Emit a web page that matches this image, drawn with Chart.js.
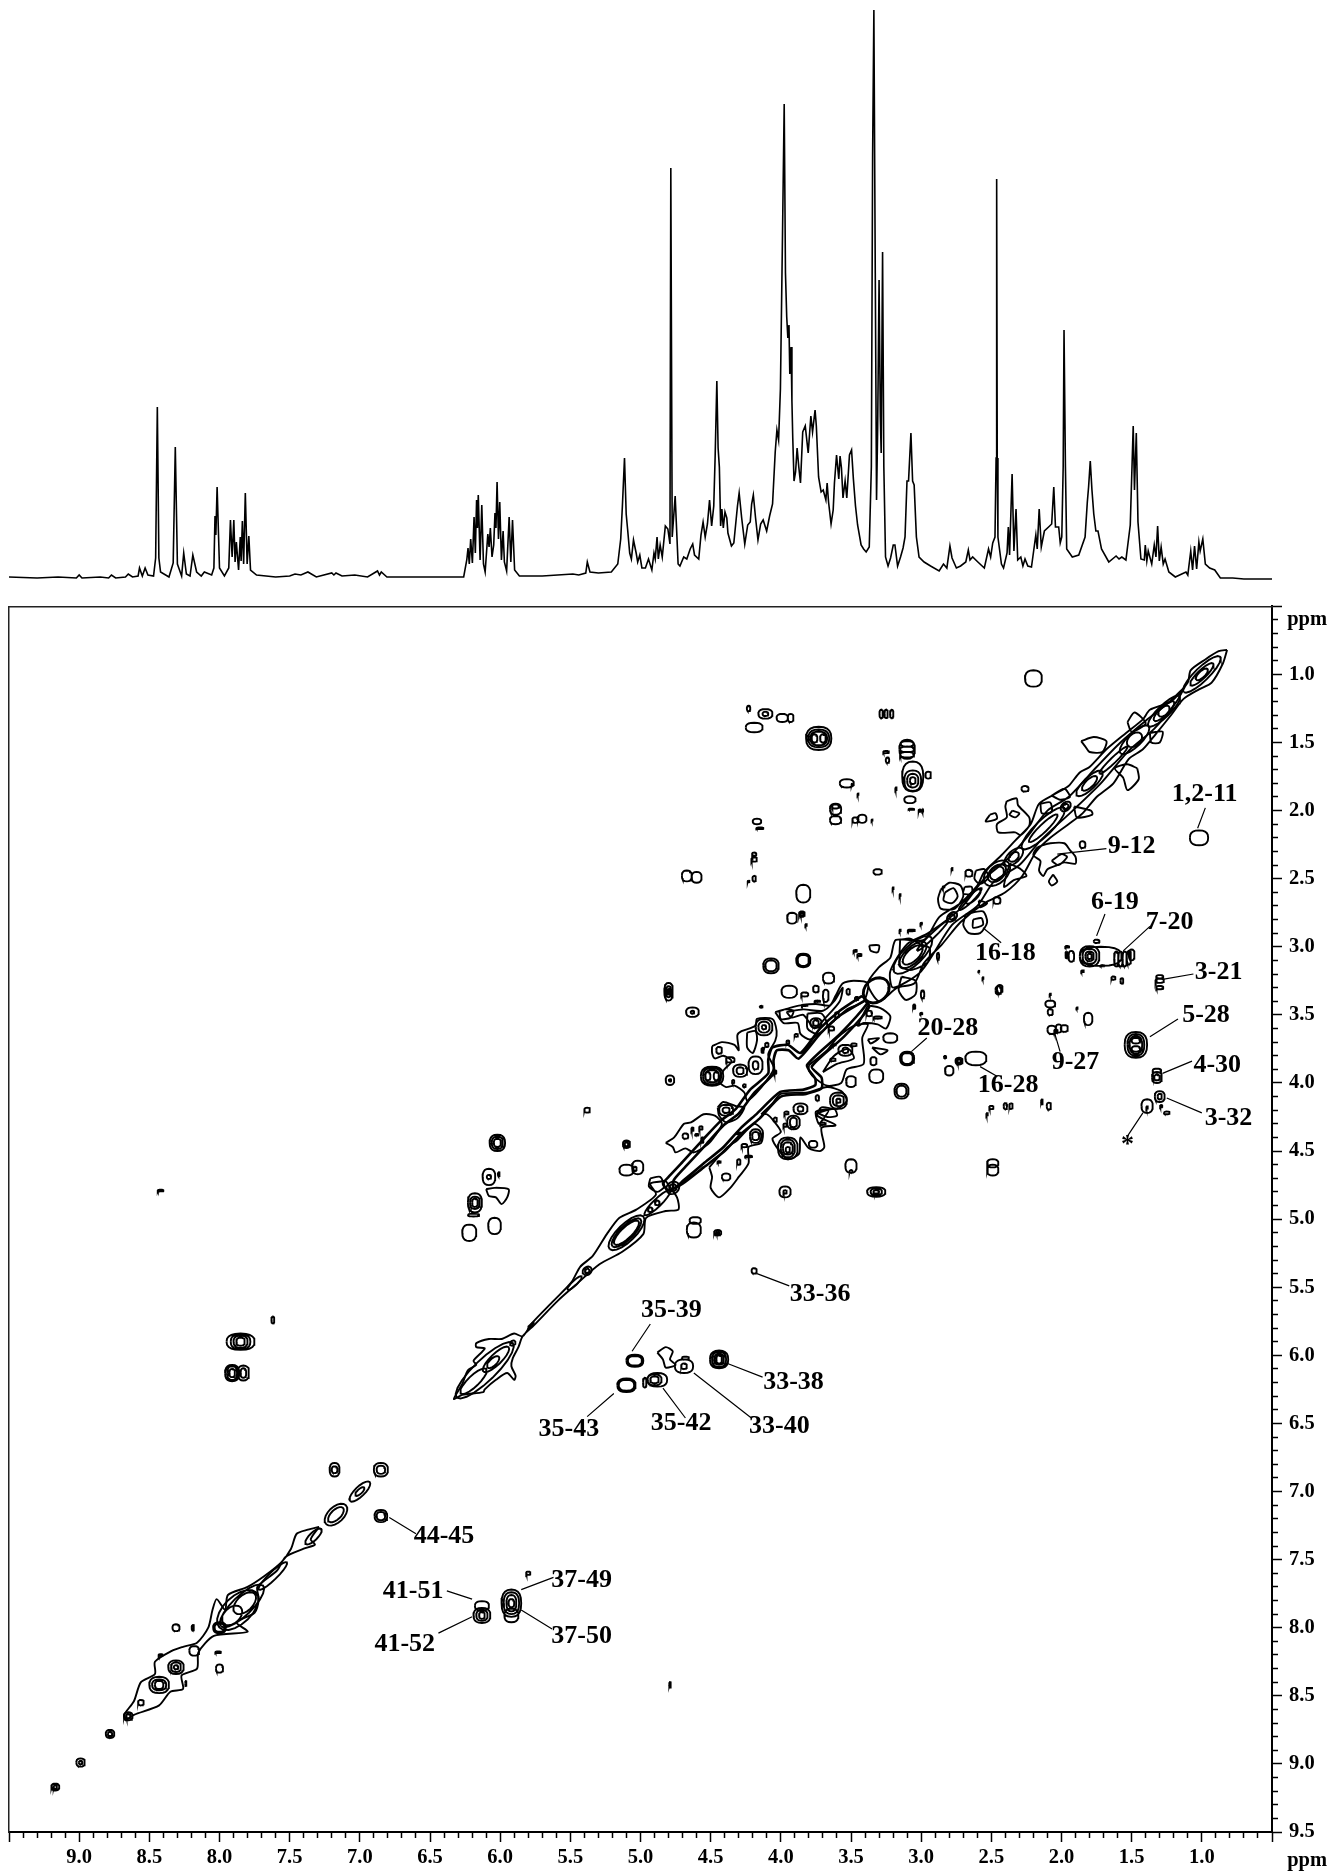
<!DOCTYPE html>
<html><head><meta charset="utf-8"><title>COSY spectrum</title>
<style>
html,body{margin:0;padding:0;background:#fff;width:1333px;height:1874px;overflow:hidden}
canvas{position:absolute;left:0;display:block}
#top{top:0}#main{top:587px}
</style>
<script src="https://cdn.jsdelivr.net/npm/chart.js@4/dist/chart.umd.min.js"></script>
</head><body>
<canvas id="top" width="1333" height="600"></canvas>
<canvas id="main" width="1333" height="1287"></canvas>
<script>
// 1D proton trace: [ppm, height]
const spectrum = [[9.5,1],[9.3,0],[9.15,1],[9.02,0],[9,3],[8.98,0],[8.85,1],[8.79,0],[8.77,3],[8.74,0],[8.67,1],[8.65,4],[8.62,1],[8.58,2],[8.57,10],[8.55,2],[8.53,10],[8.51,3],[8.47,2],[8.455,20],[8.443,171],[8.432,20],[8.42,6],[8.36,1],[8.33,15],[8.315,131],[8.30,14],[8.29,10],[8.27,2],[8.255,25],[8.236,4],[8.21,2],[8.19,23],[8.163,6],[8.13,2],[8.108,6],[8.056,3],[8.04,10],[8.032,62],[8.026,43],[8.017,91],[8.0,10],[7.965,2],[7.934,10],[7.922,58],[7.91,21],[7.898,58],[7.889,16],[7.88,36],[7.864,8],[7.852,41],[7.846,17],[7.837,57],[7.828,14],[7.816,85],[7.803,14],[7.791,42],[7.779,8],[7.736,3],[7.6,1],[7.5,2],[7.462,4],[7.42,3],[7.37,6],[7.31,1],[7.2,5],[7.185,3],[7.17,5],[7.127,2],[7.036,3],[6.945,1],[6.874,7],[6.86,3],[6.847,6],[6.807,1],[6.5,1],[6.26,1],[6.238,18],[6.229,30],[6.22,14],[6.21,39],[6.198,15],[6.186,61],[6.177,25],[6.168,78],[6.162,50],[6.156,83],[6.143,18],[6.131,73],[6.119,14],[6.107,6],[6.088,44],[6.079,31],[6.07,50],[6.058,21],[6.046,33],[6.037,65],[6.03,50],[6.022,96],[6.012,39],[6.003,76],[5.991,18],[5.979,47],[5.97,16],[5.954,7],[5.936,61],[5.924,16],[5.912,58],[5.897,8],[5.863,2],[5.7,2],[5.482,4],[5.44,3],[5.39,5],[5.379,16],[5.36,6],[5.30,5],[5.208,6],[5.162,14],[5.141,39],[5.129,72],[5.114,120],[5.102,64],[5.092,49],[5.077,25],[5.065,19],[5.05,38],[5.031,25],[5.02,16],[5.005,23],[4.99,10],[4.965,10],[4.943,19],[4.919,8],[4.904,25],[4.895,19],[4.882,41],[4.873,19],[4.86,33],[4.845,21],[4.823,52],[4.805,49],[4.79,34],[4.784,410],[4.774,41],[4.753,82],[4.732,14],[4.719,12],[4.692,21],[4.67,19],[4.646,29],[4.628,34],[4.615,23],[4.585,19],[4.569,43],[4.554,56],[4.539,41],[4.523,54],[4.508,78],[4.493,52],[4.478,72],[4.468,122],[4.456,197],[4.447,130],[4.438,111],[4.429,52],[4.42,69],[4.41,50],[4.398,66],[4.385,60],[4.377,45],[4.352,32],[4.335,35],[4.309,72],[4.297,85],[4.279,60],[4.257,34],[4.236,53],[4.218,56],[4.208,74],[4.196,83],[4.18,60],[4.163,38],[4.144,54],[4.126,58],[4.101,47],[4.08,62],[4.059,74],[4.04,126],[4.028,148],[4.016,138],[4.003,189],[3.988,344],[3.976,474],[3.967,305],[3.958,261],[3.95,240],[3.942,253],[3.936,204],[3.927,231],[3.921,177],[3.915,140],[3.906,97],[3.895,106],[3.884,130],[3.872,111],[3.86,95],[3.844,146],[3.826,152],[3.805,125],[3.786,162],[3.774,146],[3.756,168],[3.747,152],[3.731,101],[3.713,86],[3.698,88],[3.679,78],[3.67,95],[3.66,76],[3.642,54],[3.627,68],[3.618,95],[3.603,123],[3.587,99],[3.578,122],[3.568,110],[3.557,80],[3.542,97],[3.53,80],[3.511,123],[3.496,128],[3.483,99],[3.468,72],[3.453,53],[3.428,33],[3.41,29],[3.392,26],[3.37,31],[3.355,111],[3.346,422],[3.337,568],[3.327,305],[3.318,78],[3.31,150],[3.30,298],[3.291,161],[3.285,125],[3.275,326],[3.266,111],[3.254,21],[3.236,12],[3.218,20],[3.199,33],[3.187,33],[3.168,12],[3.147,21],[3.129,30],[3.115,41],[3.101,97],[3.09,97],[3.073,145],[3.061,97],[3.05,93],[3.034,41],[3.015,21],[2.979,16],[2.933,12],[2.872,7],[2.841,14],[2.817,10],[2.795,32],[2.78,20],[2.749,10],[2.719,12],[2.682,16],[2.664,28],[2.652,18],[2.633,21],[2.596,16],[2.55,10],[2.52,29],[2.505,21],[2.49,35],[2.474,41],[2.466,120],[2.462,399],[2.458,120],[2.453,41],[2.428,14],[2.413,10],[2.388,25],[2.379,51],[2.37,23],[2.352,104],[2.339,27],[2.324,69],[2.312,18],[2.29,21],[2.275,12],[2.26,19],[2.24,12],[2.214,11],[2.183,43],[2.173,29],[2.159,69],[2.144,31],[2.122,47],[2.092,51],[2.07,54],[2.055,91],[2.043,51],[2.02,51],[2.009,35],[1.998,41],[1.988,111],[1.982,248],[1.972,111],[1.963,29],[1.923,21],[1.877,23],[1.832,41],[1.816,76],[1.807,91],[1.795,117],[1.783,88],[1.77,64],[1.755,47],[1.74,47],[1.715,29],[1.663,16],[1.611,22],[1.59,19],[1.57,21],[1.541,18],[1.51,53],[1.489,152],[1.48,88],[1.467,145],[1.455,56],[1.434,19],[1.41,18],[1.403,33],[1.392,17],[1.382,27],[1.357,14],[1.339,33],[1.327,21],[1.315,52],[1.303,17],[1.29,31],[1.275,14],[1.262,19],[1.235,6],[1.189,1],[1.113,6],[1.1,3],[1.079,27],[1.066,8],[1.052,32],[1.037,9],[1.021,36],[1.012,27],[0.993,39],[0.975,14],[0.944,10],[0.908,8],[0.868,0],[0.78,0],[0.7,-1],[0.5,-1]];

// isolated cross peaks and their contour levels: [f2, f1, halfWidthF2, halfWidthF1]
const crossPeaks = [
[2.20,1.03,.06,.06],[1.02,2.20,.065,.055],[4.23,1.25,.012,.02],[4.11,1.29,.05,.035],[4.11,1.29,.02,.015],[4.19,1.39,.06,.035],[3.99,1.32,.04,.03],[3.93,1.32,.02,.03],
[3.285,1.29,.012,.03],[3.25,1.29,.012,.03],[3.21,1.29,.012,.03],
[3.73,1.47,.09,.085],[3.73,1.47,.075,.065],[3.73,1.47,.06,.05],[3.76,1.47,.02,.03],[3.70,1.47,.02,.03],
[3.10,1.51,.045,.02],[3.10,1.55,.05,.02],[3.10,1.59,.05,.02],[3.10,1.55,.055,.07],[3.25,1.57,.02,.008],[3.24,1.63,.012,.02],
[3.06,1.75,.075,.11],[3.06,1.78,.06,.075],[3.06,1.78,.04,.05],[3.06,1.78,.02,.025],[2.95,1.74,.02,.025],[3.53,1.80,.05,.03],[3.49,1.81,.006,.008],[3.45,1.88,.004,.005],[3.18,1.84,.005,.01],
[3.08,1.92,.04,.025],[3.07,1.99,.02,.004],[3.01,2.0,.008,.008],[2.99,2.0,.004,.01],
[3.61,1.99,.04,.04],[3.61,1.97,.025,.015],[3.61,2.07,.04,.03],[3.47,2.07,.02,.02],[3.42,2.06,.03,.03],[3.35,2.07,.004,.004],
[4.17,2.08,.03,.02],[4.15,2.13,.025,.006],[4.19,2.36,.02,.015],[4.19,2.32,.015,.012],[4.19,2.50,.012,.02],[4.23,2.52,.006,.005],
[4.67,2.48,.035,.04],[4.60,2.49,.035,.04],[3.31,2.45,.03,.02],[3.84,2.61,.05,.065],[3.92,2.79,.035,.04],[3.85,2.76,.02,.02],[3.85,2.76,.01,.01],[3.82,2.84,.006,.006],
[3.20,2.57,.004,.006],[3.15,2.62,.004,.006],[2.78,2.43,.004,.008],[2.26,1.84,.025,.02],[1.85,2.25,.02,.025],
[4.80,3.33,.03,.065],[4.80,3.33,.018,.04],[4.80,3.33,.008,.02],[4.63,3.48,.045,.035],[4.63,3.48,.012,.01],[4.14,3.44,.01,.006],
[3.84,3.10,.05,.05],[3.84,3.10,.04,.04],[4.07,3.14,.055,.055],[4.07,3.14,.04,.04],
[4.79,3.98,.03,.035],[4.79,3.98,.008,.008],[3.10,3.82,.05,.05],[3.10,3.82,.04,.04],[3.14,4.06,.05,.055],[3.14,4.06,.035,.04],[3.32,3.95,.05,.05],
[3.50,3.99,.035,.04],[3.34,3.84,.022,.03],[3.22,3.67,.05,.035],[3.66,3.23,.04,.04],[3.94,3.33,.055,.045],[3.75,3.31,.02,.025],[3.68,3.36,.02,.045],[3.83,3.35,.025,.015],
[2.99,3.35,.012,.03],[3.05,3.44,.008,.015],[3.0,3.49,.008,.005],[2.88,3.07,.008,.025],[3.07,2.88,.025,.006],[2.46,2.66,.025,.025],[2.66,2.46,.025,.025],[2.45,3.32,.02,.03],[2.59,3.18,.004,.004],[2.56,3.23,.004,.006],[2.84,2.56,.006,.004],[3.15,2.88,.005,.005],[3.0,2.83,.006,.006],
[1.75,2.96,.02,.012],[1.80,3.07,.07,.075],[1.80,3.07,.05,.055],[1.80,3.07,.03,.035],[1.80,3.07,.015,.02],[1.72,3.07,.15,.07],
[1.61,3.09,.015,.055],[1.58,3.09,.015,.055],[1.55,3.09,.015,.055],[1.52,3.08,.015,.05],[1.50,3.06,.02,.04],
[1.96,3.0,.014,.006],[1.93,3.07,.02,.04],[1.965,3.06,.006,.025],[1.85,3.18,.01,.006],[1.71,3.14,.014,.004],[1.63,3.23,.014,.012],[1.57,3.25,.01,.02],
[1.30,3.22,.025,.012],[1.30,3.25,.03,.015],[1.30,3.30,.025,.012],[2.08,3.42,.035,.025],[2.08,3.48,.018,.022],[2.08,3.35,.005,.005],[1.89,3.45,.005,.005],[1.81,3.53,.03,.045],
[2.07,3.61,.03,.03],[2.02,3.60,.02,.03],[1.98,3.60,.025,.025],[2.04,3.62,.012,.012],
[1.47,3.72,.08,.095],[1.47,3.72,.06,.08],[1.47,3.72,.045,.065],[1.47,3.69,.03,.02],[1.47,3.75,.03,.02],
[1.32,3.91,.03,.015],[1.32,3.96,.035,.04],[1.32,3.96,.02,.02],[1.30,4.10,.035,.04],[1.30,4.10,.015,.02],[1.29,4.17,.008,.008],[1.25,4.22,.02,.01],
[1.39,4.17,.04,.05],[1.39,4.18,.006,.008],[2.61,3.82,.075,.05],[2.73,3.84,.025,.025],[2.73,3.84,.012,.012],[2.83,3.81,.008,.008],[2.80,3.91,.03,.035],
[2.50,4.18,.015,.012],[2.53,4.23,.006,.008],[2.40,4.17,.012,.022],[2.36,4.17,.012,.02],[2.14,4.14,.006,.018],[2.09,4.17,.015,.025],[2.44,3.31,.02,.03],
[2.49,4.59,.04,.03],[2.49,4.64,.04,.04],[3.50,4.61,.04,.05],[3.50,4.65,.01,.01],[3.97,4.80,.04,.04],[3.97,4.80,.012,.012],[3.32,4.80,.065,.035],[3.32,4.80,.04,.025],[3.32,4.80,.02,.012],
[5.38,4.20,.02,.018],[5.10,4.45,.025,.028],[5.10,4.45,.012,.015],[6.02,4.44,.055,.06],[6.02,4.44,.04,.045],[6.02,4.44,.025,.03],[6.08,4.69,.045,.06],[6.08,4.69,.015,.015],[6.01,4.67,.006,.015],
[6.18,4.88,.05,.07],[6.18,4.88,.035,.045],[6.18,4.88,.02,.03],[6.19,4.97,.04,.01],[6.04,5.05,.045,.06],[6.22,5.10,.05,.06],[5.10,4.64,.05,.04],[5.02,4.62,.04,.05],[5.04,4.63,.012,.015],
[4.61,5.01,.04,.025],[4.62,5.08,.05,.055],[4.45,5.10,.025,.02],[4.45,5.10,.01,.008],[4.19,5.38,.018,.02],
[5.04,6.04,.06,.045],[5.04,6.04,.05,.035],[5.10,6.22,.065,.05],[5.10,6.22,.055,.04],[4.97,6.20,.012,.035],[4.88,6.18,.07,.05],[4.90,6.18,.05,.04],[4.90,6.18,.03,.025],[4.69,6.08,.065,.05],[4.69,6.08,.02,.02],[4.68,6.02,.025,.01],
[4.44,6.03,.065,.065],[4.44,6.03,.05,.055],[4.44,6.03,.035,.04],[4.44,6.03,.02,.03],
[7.62,5.74,.01,.025],[7.85,5.90,.1,.06],[7.85,5.90,.07,.055],[7.85,5.90,.05,.045],[7.85,5.90,.03,.03],[7.91,6.13,.05,.06],[7.91,6.13,.035,.05],[7.91,6.13,.02,.03],[7.83,6.13,.04,.055],[7.83,6.13,.02,.035],
[7.18,6.84,.035,.05],[7.18,6.84,.02,.025],[6.85,6.84,.05,.05],[6.85,6.84,.03,.03],[6.85,7.18,.045,.045],[6.85,7.18,.03,.03],[5.80,7.60,.015,.012],
[5.92,7.82,.07,.10],[5.92,7.82,.055,.08],[5.92,7.82,.035,.06],[5.92,7.82,.02,.03],[5.92,7.91,.05,.05],[6.13,7.84,.05,.035],[6.13,7.91,.06,.055],[6.13,7.91,.04,.04],[6.13,7.91,.02,.025],
[4.79,8.42,.006,.02],[8.42,4.79,.02,.006],
[8.0,8.0,.045,.04],[8.0,8.0,.035,.03],[8.18,8.17,.035,.035],[8.31,8.29,.055,.05],[8.31,8.29,.035,.035],[8.31,8.29,.015,.015],[8.43,8.42,.07,.06],[8.43,8.42,.05,.04],[8.43,8.42,.03,.03],
[8.56,8.55,.02,.02],[8.65,8.65,.03,.03],[8.65,8.65,.015,.015],[8.78,8.78,.03,.03],[8.78,8.78,.015,.015],[8.99,8.99,.03,.03],[8.99,8.99,.012,.012],[9.17,9.17,.028,.025],[9.17,9.17,.012,.012],
[8.31,8.0,.025,.025],[8.19,8.0,.008,.02],[8.01,8.18,.02,.006],[8.0,8.30,.025,.03],[8.24,8.41,.004,.018],[8.42,8.2,.014,.006],
[4.12,3.59,.06,.06],[4.12,3.59,.04,.04],[4.12,3.59,.015,.015],[4.49,3.95,.08,.07],[4.49,3.95,.065,.06],[4.49,3.95,.05,.045],[4.52,3.95,.018,.03],[4.46,3.95,.018,.03],
[3.59,4.13,.06,.06],[3.59,4.13,.04,.04],[3.59,4.13,.015,.015],[3.95,4.48,.07,.08],[3.95,4.48,.05,.065],[3.95,4.48,.035,.045],[3.95,4.49,.015,.02],
[4.18,3.87,.05,.065],[4.18,3.87,.02,.03],[4.29,3.91,.05,.045],[4.29,3.91,.025,.025],[4.39,4.20,.05,.04],[4.39,4.20,.025,.02],[3.91,4.29,.045,.05],[3.91,4.29,.025,.035],[3.86,4.19,.05,.04],[3.86,4.19,.02,.02],
[4.18,4.39,.04,.05],[4.18,4.39,.025,.03],[4.39,4.69,.03,.025],[4.68,4.39,.02,.02],[3.75,3.56,.04,.035],[3.75,3.56,.02,.02],[3.54,3.76,.05,.04],[3.54,3.76,.02,.02],[3.48,3.72,.02,.01],[3.63,3.83,.02,.01],
[4.04,3.92,.008,.012],[3.95,3.70,.01,.012],[3.89,3.65,.012,.01],[4.26,4.02,.01,.01],[4.34,3.99,.008,.012],[4.30,4.37,.02,.006],[4.23,4.54,.025,.006],[4.44,4.58,.012,.006],[4.57,4.33,.012,.012],[4.63,4.34,.008,.012],[4.60,4.38,.012,.006],[3.97,4.31,.012,.012],[3.74,4.11,.012,.02],[3.64,3.60,.02,.015],[3.60,3.50,.014,.02],[3.62,3.72,.012,.004],[3.37,3.49,.02,.02],[3.31,3.52,.03,.008],[3.52,3.33,.012,.02],[3.46,3.38,.012,.012],[3.70,4.30,.02,.008],[3.83,3.43,.02,.005],[3.74,3.40,.02,.005],
[3.47,3.03,.012,.006],[3.44,3.06,.015,.008],[4.44,3.76,.02,.025],[4.36,3.83,.03,.02],[3.77,4.45,.03,.025],[4.04,4.27,.012,.015],[4.10,3.72,.012,.015],[4.56,4.42,.008,.02],[4.26,4.46,.02,.012],[4.13,3.76,.008,.018],[3.96,4.22,.015,.01],[4.30,4.58,.012,.02]
];

// diagonal ridge contours: [centre ppm, half-length along the diagonal, half-width across]
const diagonalPeaks = [
[1.00,.13,.035],[1.00,.08,.022],[1.00,.04,.016],[1.27,.11,.03],[1.27,.07,.022],[1.27,.035,.02],[1.48,.10,.035],[1.48,.045,.03],[1.63,.10,.014],[1.80,.09,.03],[1.80,.05,.02],
[1.97,.03,.02],[1.97,.015,.012],[2.13,.15,.04],[2.13,.10,.02],[2.34,.06,.03],[2.34,.03,.02],[2.46,.08,.05],[2.46,.055,.035],[2.46,.04,.03],[2.65,.08,.015],[2.63,.05,.02],[2.78,.03,.02],[2.78,.015,.012],[2.92,.11,.012],[3.06,.13,.05],[3.06,.09,.04],[3.06,.065,.03],[3.32,.07,.055],[3.32,.072,.057],[3.32,.075,.06],
[4.77,.035,.03],[4.77,.02,.018],[4.88,.09,.02],[4.88,.012,.012],[4.93,.012,.012],[5.10,.12,.045],[5.10,.10,.035],[5.10,.085,.028],[5.38,.025,.02],[5.38,.012,.01],[5.47,.05,.012],[5.78,.02,.005],
[6.03,.09,.028],[6.19,.09,.028],[6.11,.20,.055],[6.05,.04,.018],[5.91,.015,.012],
[7.33,.055,.02],[7.62,.10,.02],[7.91,.06,.04],[7.82,.07,.04],[7.87,.13,.07],[7.84,.15,.05],[7.0,.07,.025],[7.0,.03,.012],[7.17,.07,.04],[7.17,.05,.025]
];

// the heavy, tightly packed contours around the diagonal 3.4-4.8
const heavyContours = [
[3.398,3.393,3.576,3.503,3.719,3.638,3.873,3.821,3.945,3.760,4.028,3.760,4.052,3.834,4.052,3.932,4.194,4.078,4.301,4.225,4.408,4.311,4.527,4.445,4.681,4.617,4.764,4.715,4.764,4.776,4.693,4.715,4.551,4.592,4.408,4.470,4.289,4.335,4.170,4.225,4.004,4.066,3.838,4.049,3.755,4.017,3.755,3.968,3.814,3.870,3.576,3.638,3.386,3.418,3.398,3.393],
[3.42,3.36,3.58,3.47,3.72,3.60,3.86,3.78,3.95,3.72,4.06,3.74,4.09,3.83,4.09,3.93,4.22,4.05,4.32,4.19,4.43,4.28,4.55,4.41,4.70,4.58,4.80,4.69,4.84,4.74,4.80,4.79,4.70,4.74,4.55,4.62,4.40,4.50,4.28,4.37,4.15,4.26,4.0,4.10,3.82,4.08,3.71,4.04,3.71,3.96,3.78,3.88,3.55,3.66,3.37,3.44,3.42,3.36]
];

// irregular hand-read contour outlines, flat f2,f1 lists
const outlines = [
// diagonal hull 0.8-3.4
[.82,.82,.88,.83,.975,.89,1.08,.97,1.10,1.06,1.22,1.20,1.37,1.26,1.42,1.33,1.54,1.43,1.68,1.55,1.80,1.68,1.87,1.72,1.95,1.82,2.05,1.88,2.16,1.95,2.22,2.10,2.33,2.22,2.43,2.33,2.55,2.45,2.60,2.55,2.72,2.68,2.87,2.78,2.98,2.95,3.18,2.95,3.22,3.08,3.30,3.15,3.38,3.27,3.30,3.40,3.17,3.30,3.05,3.27,2.98,3.12,2.85,2.98,2.72,2.82,2.55,2.68,2.40,2.60,2.28,2.48,2.18,2.30,2.08,2.20,1.95,2.10,1.85,2.02,1.75,1.90,1.63,1.80,1.52,1.62,1.42,1.55,1.33,1.44,1.22,1.30,1.13,1.18,1.02,1.11,.93,1.06,.85,.92,.82,.82],
// inner ridge 1.1-3.3
[1.12,1.09,1.25,1.22,1.40,1.34,1.58,1.50,1.75,1.68,1.95,1.90,2.10,2.0,2.25,2.20,2.40,2.37,2.55,2.50,2.72,2.72,2.95,2.90,3.10,2.98,3.22,3.18,3.20,3.30,3.0,3.18,2.78,2.84,2.60,2.70,2.48,2.52,2.30,2.40,2.15,2.22,1.92,2.0,1.72,1.80,1.52,1.56,1.34,1.40,1.18,1.20,1.12,1.09],
// clouds flanking the diagonal
[4.49,3.73,4.42,3.70,4.33,3.72,4.30,3.76,4.31,3.65,4.28,3.62,4.18,3.58,4.17,3.53,4.06,3.53,4.03,3.62,4.04,3.69,4.09,3.79,4.05,3.89,4.10,3.98,4.18,4.08,4.24,4.13,4.26,4.07,4.33,4.02,4.39,4.03,4.44,3.99,4.41,3.91,4.35,3.84,4.41,3.80,4.47,3.82,4.49,3.78,4.49,3.73],
[4.24,3.63,4.18,3.62,4.17,3.69,4.20,3.78,4.24,3.74,4.24,3.63],
[4.04,3.48,3.98,3.56,3.88,3.56,3.86,3.64,3.79,3.68,3.67,3.59,3.53,3.46,3.41,3.40,3.38,3.27,3.48,3.25,3.56,3.27,3.61,3.36,3.65,3.43,3.75,3.42,3.86,3.43,3.94,3.45,4.04,3.48],
[3.96,3.48,3.92,3.52,3.84,3.50,3.76,3.60,3.68,3.52,3.58,3.40,3.56,3.30,3.62,3.40,3.70,3.47,3.84,3.46,3.96,3.48],
[4.01,3.47,3.97,3.46,3.91,3.47,3.93,3.52,4.0,3.53,4.01,3.47],
[3.81,3.49,3.71,3.49,3.67,3.58,3.74,3.64,3.81,3.60,3.81,3.49],
[4.82,4.44,4.76,4.40,4.69,4.30,4.64,4.29,4.55,4.23,4.47,4.24,4.42,4.30,4.47,4.39,4.52,4.45,4.62,4.51,4.68,4.48,4.75,4.51,4.77,4.47,4.82,4.44],
[4.45,4.18,4.41,4.14,4.32,4.17,4.26,4.18,4.31,4.26,4.39,4.29,4.44,4.24,4.45,4.18],
[4.14,4.23,4.06,4.15,4.00,4.08,3.81,4.07,3.67,4.03,3.57,4.06,3.53,4.13,3.60,4.19,3.71,4.18,3.74,4.24,3.61,4.31,3.71,4.33,3.69,4.47,3.72,4.50,3.80,4.48,3.86,4.40,3.87,4.52,3.95,4.56,4.01,4.50,4.06,4.41,4.00,4.36,4.05,4.28,4.10,4.23,4.14,4.23],
[3.74,4.22,3.62,4.19,3.60,4.24,3.67,4.25,3.74,4.22],
[3.70,4.27,3.66,4.20,3.75,4.21,3.73,4.30,3.70,4.27],
[4.51,4.62,4.39,4.48,4.31,4.42,4.19,4.30,4.13,4.35,4.14,4.44,4.23,4.47,4.23,4.59,4.30,4.69,4.36,4.77,4.44,4.84,4.50,4.77,4.49,4.69,4.51,4.62],
[3.80,3.87,3.67,3.76,3.60,3.67,3.48,3.58,3.38,3.57,3.42,3.67,3.41,3.86,3.53,3.90,3.57,4.00,3.67,4.02,3.75,3.97,3.80,3.91,3.80,3.87],
[3.70,3.92,3.62,3.80,3.52,3.75,3.48,3.82,3.60,3.86,3.70,3.92],
[3.38,3.68,3.30,3.67,3.36,3.71,3.38,3.68],[3.35,3.74,3.24,3.76,3.29,3.79,3.35,3.74],
[3.38,3.43,3.29,3.45,3.22,3.51,3.25,3.60,3.31,3.57,3.41,3.56,3.45,3.58,3.38,3.43],
[3.14,3.22,3.04,3.25,3.04,3.35,3.11,3.39,3.16,3.32,3.14,3.22],
[3.37,2.99,3.30,2.99,3.31,3.04,3.36,3.03,3.37,2.99],
[4.93,4.70,4.86,4.69,4.83,4.76,4.88,4.80,4.94,4.76,4.93,4.70],
// 1.3-1.8 side clouds
[1.86,1.49,1.77,1.46,1.68,1.49,1.71,1.57,1.80,1.57,1.83,1.53,1.86,1.49],[1.53,1.35,1.48,1.28,1.40,1.36,1.50,1.42,1.53,1.35],[1.46,1.69,1.45,1.77,1.53,1.85,1.56,1.76,1.62,1.69,1.53,1.66,1.46,1.69],[1.37,1.43,1.28,1.42,1.30,1.50,1.36,1.50,1.37,1.43],
// lobes around the 2.0-3.1 ridge
[2.61,2.44,2.55,2.43,2.52,2.49,2.58,2.54,2.62,2.50,2.61,2.44],[2.37,2.39,2.29,2.43,2.25,2.48,2.34,2.51,2.41,2.56,2.37,2.39],[2.69,2.56,2.64,2.56,2.64,2.61,2.70,2.61,2.69,2.56],[2.59,2.66,2.53,2.68,2.58,2.71,2.59,2.66],
[2.15,1.95,2.08,1.94,2.07,2.01,2.14,2.02,2.15,1.95],[1.91,1.97,1.79,2.0,1.78,2.03,1.89,2.05,1.91,1.97],[2.07,1.89,1.98,1.84,1.94,1.90,2.01,1.92,2.07,1.89],
[3.15,2.95,3.08,2.94,3.01,2.98,2.94,3.01,2.95,3.11,3.01,3.15,3.08,3.17,3.15,3.14,3.15,2.95],
// 9-12 cloud, upper cloud, 2.6 and 2.8 blobs
[2.15,2.26,2.08,2.24,1.98,2.24,1.94,2.29,1.90,2.34,1.90,2.39,1.98,2.38,2.03,2.40,2.10,2.43,2.13,2.48,2.16,2.44,2.15,2.37,2.20,2.33,2.18,2.28,2.15,2.26],
[2.07,2.37,2.0,2.32,1.96,2.34,2.02,2.40,2.07,2.37],
[2.06,2.47,2.03,2.52,2.07,2.55,2.09,2.52,2.06,2.47],
[2.39,1.93,2.32,1.91,2.31,1.96,2.23,2.05,2.23,2.11,2.29,2.18,2.33,2.16,2.45,2.16,2.46,2.10,2.39,2.05,2.40,1.97,2.39,1.93],
[2.35,2.0,2.30,2.02,2.33,2.05,2.37,2.03,2.35,2.0],
[2.51,2.03,2.47,2.02,2.46,2.06,2.54,2.08,2.51,2.03],
[2.86,2.58,2.80,2.53,2.72,2.55,2.70,2.63,2.76,2.72,2.86,2.72,2.88,2.65,2.86,2.58],
[2.83,2.60,2.77,2.57,2.74,2.63,2.78,2.68,2.84,2.66,2.83,2.60],
[2.68,2.76,2.56,2.74,2.53,2.82,2.58,2.90,2.66,2.90,2.70,2.84,2.68,2.76],
[2.63,2.80,2.57,2.79,2.56,2.84,2.63,2.86,2.63,2.80],
// 4.8 - 6.3 diagonal
[4.82,4.72,4.93,4.74,4.89,4.82,5.03,4.93,5.15,4.99,5.24,5.11,5.34,5.27,5.43,5.35,5.49,5.46,5.62,5.60,5.77,5.76,5.84,5.86,5.90,5.84,5.99,5.88,6.08,5.88,6.17,5.91,6.17,5.94,6.11,5.95,6.19,6.04,6.17,6.07,6.23,6.11,6.27,6.21,6.33,6.32,6.27,6.29,6.12,6.27,6.11,6.25,6.03,6.18,5.95,6.13,5.90,6.18,5.89,6.15,5.92,6.08,5.91,6.02,5.87,5.94,5.84,5.86,5.76,5.78,5.59,5.60,5.47,5.49,5.29,5.33,5.13,5.24,4.98,5.11,4.96,4.99,4.82,4.94,4.73,4.93,4.74,4.84,4.82,4.72],
[6.10,4.78,6.04,4.77,5.94,4.78,5.95,4.84,5.99,4.89,6.03,4.84,6.08,4.83,6.10,4.78],
[4.88,5.98,4.82,5.94,4.77,5.97,4.79,6.03,4.75,6.07,4.82,6.09,4.84,6.03,4.88,5.98],
// 7.3 - 8.7 diagonal
[7.29,7.26,7.37,7.28,7.45,7.31,7.49,7.42,7.56,7.52,7.68,7.62,7.80,7.70,7.94,7.76,7.96,7.87,8.02,7.79,8.05,7.87,8.08,8.0,8.16,8.11,8.26,8.14,8.34,8.17,8.46,8.25,8.46,8.34,8.56,8.40,8.61,8.54,8.68,8.64,8.67,8.68,8.61,8.64,8.43,8.57,8.35,8.47,8.26,8.45,8.27,8.35,8.16,8.30,8.15,8.18,8.04,8.06,7.80,8.03,7.88,7.96,7.75,7.89,7.72,7.79,7.73,7.70,7.59,7.58,7.53,7.48,7.40,7.42,7.32,7.39,7.35,7.35,7.29,7.26]
];

// leader lines [f2,f1,f2,f1]
const leaders = [[.975,1.98,1.03,2.13],[1.68,2.28,2.03,2.32],[1.69,2.76,1.75,2.92],[1.37,2.85,1.56,3.03],[2.43,2.97,2.56,2.86],[1.06,3.20,1.28,3.24],[1.17,3.53,1.37,3.66],[2.96,3.67,3.07,3.77],[2.01,3.77,2.05,3.63],[1.07,3.84,1.28,3.93],[2.46,3.95,2.58,3.88],[1.0,4.22,1.25,4.11],[1.53,4.39,1.42,4.22],[3.94,5.49,4.17,5.40],[4.93,5.77,5.06,5.97],[4.13,6.16,4.38,6.06],[4.21,6.46,4.62,6.13],[4.68,6.46,4.84,6.24],[5.38,6.45,5.19,6.28],[6.60,7.31,6.79,7.19],[5.62,7.63,5.85,7.72],[5.63,8.01,5.85,7.87],[6.38,7.73,6.20,7.79],[6.44,8.04,6.20,7.92]];

// assignment labels [text, f2, f1]
const assignments = [["1,2-11",.98,1.88],["9-12",1.50,2.26],["6-19",1.62,2.67],["7-20",1.23,2.82],["16-18",2.40,3.05],["3-21",.88,3.19],["5-28",.97,3.50],["20-28",2.81,3.60],["9-27",1.90,3.85],["4-30",.89,3.87],["16-28",2.38,4.02],["3-32",.81,4.26],["*",1.53,4.46],["33-36",3.72,5.55],["35-39",4.78,5.67],["33-38",3.91,6.20],["35-43",5.51,6.54],["35-42",4.71,6.50],["33-40",4.01,6.52],["44-45",6.40,7.33],["37-49",5.42,7.65],["41-51",6.62,7.73],["41-52",6.68,8.12],["37-50",5.42,8.06]];
const axisCaptions = [["ppm",.25,.60],["ppm",.25,9.71]];

const xLabelled = [9,8.5,8,7.5,7,6.5,6,5.5,5,4.5,4,3.5,3,2.5,2,1.5,1];
const yLabelled = [1,1.5,2,2.5,3,3.5,4,4.5,5,5.5,6,6.5,7,7.5,8,8.5,9,9.5];

const GAP = {x:NaN,y:NaN};
const SERIF = '"Liberation Serif","Times New Roman",serif';
const pairs = f => { const o=[]; for(let i=0;i<f.length;i+=2) o.push({x:f[i],y:f[i+1]}); return o; };
const STEPS = 20;
function ringPoints([x,y,rx,ry]){
  const o=[];
  for(let i=0;i<=STEPS;i++){
    const t=i/STEPS*2*Math.PI,c=Math.cos(t),s=Math.sin(t);
    o.push({x:x+rx*Math.sign(c)*Math.pow(Math.abs(c),.8),y:y+ry*Math.sign(s)*Math.pow(Math.abs(s),.8)});
  }
  return o;
}
function ridgePoints([m,a,b]){
  const o=[];
  for(let i=0;i<=STEPS;i++){
    const t=i/STEPS*2*Math.PI,p=a*Math.cos(t),q=b*Math.sin(t);
    o.push({x:m+p+q,y:m+p-q});
  }
  return o;
}
const joined = lists => lists.flatMap(l=>[...l,GAP]);
const contour = (label,data,tension,w)=>({label,data,showLine:true,pointRadius:0,borderColor:'#000',backgroundColor:'transparent',borderWidth:w,tension,spanGaps:false,fill:false});

Chart.defaults.animation=false;
Chart.defaults.font.family=SERIF;

new Chart(document.getElementById('top'),{
  type:'scatter',
  data:{datasets:[{label:'1H',data:spectrum.map(([x,y])=>({x,y})),showLine:true,pointRadius:0,borderColor:'#000',borderWidth:1.6,tension:0,borderJoinStyle:'miter'}]},
  options:{responsive:false,events:[],devicePixelRatio:1,
    layout:{padding:{left:9,right:61,top:10,bottom:17}},
    plugins:{legend:{display:false},tooltip:{enabled:false}},
    scales:{x:{type:'linear',min:.5,max:9.5,reverse:true,display:false},y:{type:'linear',min:-5,max:568,display:false}}}
});

const isMajor = v => Math.abs(v*2-Math.round(v*2))<1e-6;
const tickDash = c => (c.tick && isMajor(c.tick.value)) ? [] : [5,100];
const has = (list,v) => list.some(l=>Math.abs(l-v)<1e-6);
const tickFont = {family:SERIF,size:20.5,weight:'bold'};

const textPlugin = {id:'assignmentText',afterDraw(ch){
  const {ctx,scales:{x,y}}=ch;
  ctx.save();ctx.fillStyle='#000';ctx.textAlign='center';ctx.textBaseline='middle';
  ctx.font=`bold 26px ${SERIF}`;
  assignments.forEach(([t,a,b])=>ctx.fillText(t,x.getPixelForValue(a),y.getPixelForValue(b)));
  ctx.font=`bold 20.5px ${SERIF}`;
  axisCaptions.forEach(([t,a,b])=>ctx.fillText(t,x.getPixelForValue(a),y.getPixelForValue(b)));
  ctx.restore();
}};

new Chart(document.getElementById('main'),{
  type:'scatter',
  data:{datasets:[
    contour('outlines',joined(outlines.map(pairs)),.25,1.9),
    contour('heavy',joined(heavyContours.map(pairs)),.2,2.6),
    contour('diagonal',joined(diagonalPeaks.map(ridgePoints)),0,1.9),
    contour('cross peaks',joined(crossPeaks.map(ringPoints)),0,1.9),
    contour('leaders',joined(leaders.map(([a,b,c,d])=>[{x:a,y:b},{x:c,y:d}])),0,1.2)
  ]},
  plugins:[textPlugin],
  options:{responsive:false,events:[],devicePixelRatio:1,
    layout:{padding:{left:9,right:0,top:0,bottom:0}},
    plugins:{legend:{display:false},tooltip:{enabled:false}},
    scales:{
      x:{type:'linear',position:'bottom',min:.5,max:9.5,reverse:true,
        afterFit:s=>{s.height=42},
        border:{display:true,color:'#000',width:2},
        grid:{drawOnChartArea:false,drawTicks:true,tickLength:10,tickColor:'#000',tickWidth:1.5,tickBorderDash:tickDash},
        ticks:{stepSize:.1,autoSkip:false,maxRotation:0,padding:3,color:'#000',font:tickFont,
          callback:v=>has(xLabelled,v)?v.toFixed(1):''}},
      y:{type:'linear',position:'right',min:.5,max:9.5,reverse:true,
        afterFit:s=>{s.width=61},
        border:{display:true,color:'#000',width:2},
        grid:{drawOnChartArea:false,drawTicks:true,tickLength:10,tickColor:'#000',tickWidth:1.5,tickBorderDash:tickDash},
        ticks:{stepSize:.1,autoSkip:false,padding:7,color:'#000',font:tickFont,
          callback:v=>has(yLabelled,v)?v.toFixed(1):''}},
      xTop:{type:'linear',position:'top',min:.5,max:9.5,reverse:true,
        afterFit:s=>{s.height=0},
        border:{display:true,color:'#222',width:1.5},grid:{display:false,drawTicks:false},ticks:{display:false}},
      yLeft:{type:'linear',position:'left',min:.5,max:9.5,reverse:true,
        afterFit:s=>{s.width=0},
        border:{display:true,color:'#222',width:1.5},grid:{display:false,drawTicks:false},ticks:{display:false}}
    }}
});
</script>
</body></html>
